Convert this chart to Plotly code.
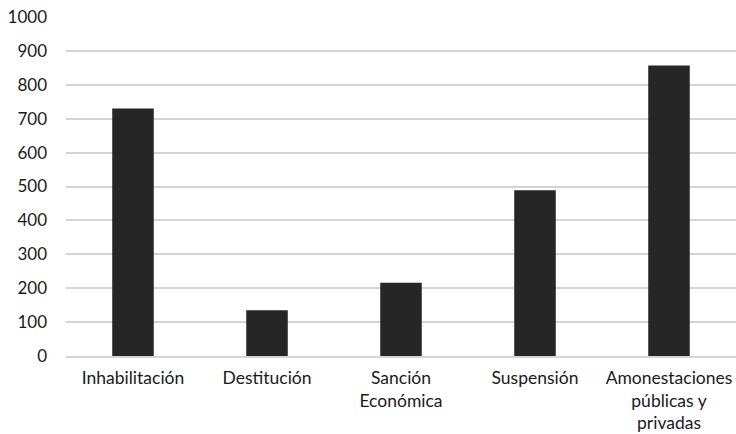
import plotly.graph_objects as go

categories = [
    "Inhabilitación",
    "Destitución",
    "Sanción<br>Económica",
    "Suspensión",
    "Amonestaciones<br>públicas y<br>privadas",
]
values = [730, 135, 216, 489, 857]
y_ticks = [0, 100, 200, 300, 400, 500, 600, 700, 800, 900, 1000]

fig = go.Figure(
    go.Bar(
        x=categories,
        y=values,
        marker=dict(color="#262626", line=dict(width=0)),
    )
)

fig.update_layout(
    width=736,
    height=434,
    margin=dict(l=66, r=0, t=17, b=78, autoexpand=False),
    paper_bgcolor="white",
    plot_bgcolor="white",
    bargap=0.69,
    showlegend=False,
    font=dict(family="Lato", size=17, color="#1a1a1a"),
)
fig.update_yaxes(
    range=[0, 1000],
    tickvals=y_ticks,
    tickfont=dict(size=17),
    showgrid=True,
    gridcolor="#d4d4d4",
    gridwidth=1.5,
    zeroline=False,
    showline=False,
    ticks="",
    ticklabelstandoff=18,
    automargin=False,
)
fig.update_xaxes(
    showline=True,
    linecolor="#d4d4d4",
    linewidth=1.5,
    ticks="",
    tickangle=0,
    tickfont=dict(size=17.5),
    ticklabelstandoff=5,
    automargin=False,
)

fig.write_html("out.html")
